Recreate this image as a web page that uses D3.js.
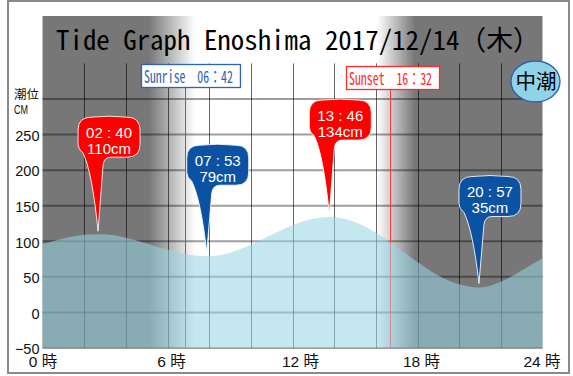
<!DOCTYPE html>
<html><head><meta charset="utf-8">
<script src="https://cdn.jsdelivr.net/npm/d3@7/dist/d3.min.js"></script>
<style>body{margin:0;background:#fff}svg{display:block}</style>
</head><body>
<svg id="c" width="573" height="376"></svg>
<script>
// ---------- data ----------
const titleText = "Tide Graph Enoshima 2017/12/14（木）";
const tideName = "中潮";
const curveHours = [0, 1, 2, 2.667, 3, 4, 5, 6, 7, 7.883, 8, 9, 10, 11, 12, 13, 13.767, 14, 15, 16, 17, 18, 19, 20, 20.95, 21, 22, 23, 24];
const curveCm    = [96, 104, 109, 110, 109.7, 105, 97, 88, 81, 79, 79, 84, 95, 109, 122.5, 131.5, 134, 133.8, 127, 112, 92, 71, 52, 39.5, 35, 35, 43, 59, 76];
const extremeTimes = ["02:40", "07:53", "13:46", "20:57"];
const extremeCm    = [110, 79, 134, 35];
const extremeKind  = ["high", "low", "high", "low"];
const sunNames = ["Sunrise", "Sunset"];
const sunTimes = ["06:42", "16:32"];
const yTickValues = [-50, 0, 50, 100, 150, 200, 250];
const gridCm = [-50, 0, 50, 100, 150, 200, 250, 300];
const xTickValues = [0, 6, 12, 18, 24];
const gridHours = [2, 4, 6, 8, 10, 12, 14, 16, 18, 20, 22];

// ---------- helpers ----------
const toH = s => { const [h, m] = s.split(":").map(Number); return h + m / 60; };
const MONO = "'Noto Sans Mono CJK JP','DejaVu Sans Mono',monospace";
const SANS = "'Liberation Sans','Noto Sans CJK JP',sans-serif";
const NARROW = "'Liberation Sans Narrow','Liberation Sans','Noto Sans CJK JP',sans-serif";
const GRAY = "#777777";

const svg = d3.select("#c");
const x = d3.scaleLinear().domain([0, 24]).range([42.5, 542.5]);
const y = d3.scaleLinear().domain([-50, 350]).range([348, 63.4]);

// outer frame
svg.append("rect").attr("x", 8).attr("y", 1).attr("width", 561).attr("height", 372)
  .attr("fill", "#fff").attr("stroke", "#8a8a8a").attr("stroke-width", 2);

// day/night gradient
const sunrise = toH(sunTimes[0]), sunset = toH(sunTimes[1]);
const defs = svg.append("defs");
const grad = defs.append("linearGradient").attr("id", "dn")
  .attr("gradientUnits", "userSpaceOnUse")
  .attr("x1", x(0)).attr("x2", x(24)).attr("y1", 0).attr("y2", 0);
[[0, GRAY], [sunrise - 1.6, GRAY], [sunrise + 0.62, "#ffffff"],
 [sunset - 0.47, "#ffffff"], [sunset + 1.35, GRAY], [24, GRAY]]
  .forEach(([h, c]) => grad.append("stop").attr("offset", h / 24).attr("stop-color", c));

svg.append("rect").attr("x", x(0)).attr("y", 16)
  .attr("width", x(24) - x(0)).attr("height", y(-50) - 16)
  .attr("fill", "url(#dn)");

// grid
svg.append("g").selectAll("line").data(gridCm).join("line")
  .attr("x1", x(0)).attr("x2", x(24))
  .attr("y1", d => y(d)).attr("y2", d => y(d))
  .attr("stroke", "rgba(0,0,0,0.38)").attr("stroke-width", 2);
svg.append("g").selectAll("line").data(gridHours).join("line")
  .attr("x1", d => Math.round(x(d)) + 0.5).attr("x2", d => Math.round(x(d)) + 0.5)
  .attr("y1", y(350)).attr("y2", y(-50))
  .attr("stroke", "rgba(0,0,0,0.6)").attr("stroke-width", 1);

// sunrise / sunset lines and boxes
const sunColors = ["#2f63b0", "#ff2a2a"];
const sunLineColors = ["#3c74c4", "#ff3a3a"];
const sunBoxTop = [64.5, 66.5];
const sunG = svg.append("g");
sunNames.forEach((name, i) => {
  const lx = Math.round(x(toH(sunTimes[i])) + 3) + 0.5;
  const label = name + "\u00a0\u00a0" + sunTimes[i].replace(":", "：");
  const hw = [...label].reduce((s, ch) => s + (ch.charCodeAt(0) > 255 ? 2 : 1), 0);
  const tl = hw * 5.93;
  const bx = lx - 44;
  sunG.append("line").attr("x1", lx).attr("x2", lx)
    .attr("y1", sunBoxTop[i] + 23).attr("y2", y(-50))
    .attr("stroke", sunLineColors[i]).attr("stroke-width", 1);
  sunG.append("rect").attr("x", bx).attr("y", sunBoxTop[i])
    .attr("width", tl + 10).attr("height", 23)
    .attr("fill", "#fff").attr("stroke", sunColors[i]).attr("stroke-width", 1.3);
  sunG.append("text").attr("x", bx + 2.5).attr("y", sunBoxTop[i] + 18.5)
    .attr("textLength", tl).attr("lengthAdjust", "spacingAndGlyphs")
    .style("font-family", MONO).style("font-size", "17px")
    .attr("fill", sunColors[i]).text(label);
});

// water
const tide = curveHours.map((h, i) => [h, curveCm[i]]);
svg.append("path").datum(tide)
  .attr("d", d3.area().x(d => x(d[0])).y0(y(-50)).y1(d => y(d[1])).curve(d3.curveMonotoneX))
  .attr("fill", "rgb(150,213,228)").attr("fill-opacity", 0.56);

// y axis
const yAxis = svg.append("g").attr("transform", `translate(${x(0)},0)`)
  .call(d3.axisLeft(y).tickValues(yTickValues).tickSize(0).tickPadding(3));
yAxis.select(".domain").remove();
yAxis.selectAll("text").style("font-family", NARROW).style("font-size", "14.5px")
  .attr("fill", "#111").attr("dy", "0.4em");

// x axis
const xAxis = svg.append("g").attr("transform", `translate(0,${y(-50)})`)
  .call(d3.axisBottom(x).tickValues(xTickValues).tickSize(0).tickPadding(0)
    .tickFormat(d => d + " 時"));
xAxis.select(".domain").remove();
const xLabelNudge = [0, 3.5, 7.5, 3.5, -1];
xAxis.selectAll("text").style("font-family", SANS).style("font-size", "15.5px")
  .attr("fill", "#111").attr("dy", 0).attr("y", 19)
  .attr("dx", (d, i) => xLabelNudge[i]);

// unit label
svg.append("text").attr("x", 14).attr("y", 99).text("潮位")
  .style("font-family", "'Noto Sans CJK JP',sans-serif").style("font-size", "12.5px").attr("fill", "#111");
svg.append("text").attr("x", 14).attr("y", 113.5).text("CM")
  .attr("textLength", 14).attr("lengthAdjust", "spacingAndGlyphs")
  .style("font-family", NARROW).style("font-size", "12px").attr("fill", "#111");

// markers
const markerFill = { high: "#ff0000", low: "#0c52a2" };
function markerPath(tx, ty, x0, y0) {
  const w = 62, h = 40, r = 13, x1 = x0 + w, y1 = y0 + h;
  return `M${x0 + r},${y0} Q${x0 + w / 2},${y0 - 2} ${x1 - r},${y0} Q${x1},${y0} ${x1},${y0 + r}
    L${x1},${y1 - r} Q${x1},${y1} ${x1 - r},${y1} L${tx + 13},${y1}
    Q${tx + 6},${y1} ${tx + 5},${y1 + 8} L${tx},${ty}
    Q${tx - 6},${y1 + 14} ${x0 + 5},${y1 - 4} Q${x0},${y1 - 8} ${x0},${y1 - r}
    L${x0},${y0 + r} Q${x0},${y0} ${x0 + r},${y0} Z`;
}
const mG = svg.append("g");
extremeTimes.forEach((t, i) => {
  const kind = extremeKind[i];
  const tx = x(toH(t)), cy = y(extremeCm[i]);
  const ty = cy - (kind === "high" ? 3 : 4);
  const y0 = cy - (kind === "high" ? 117 : 111);
  const x0 = tx - 20;
  mG.append("path").attr("d", markerPath(tx, ty, x0, y0))
    .attr("fill", markerFill[kind]).attr("stroke", "rgba(255,255,255,0.85)").attr("stroke-width", 1);
  mG.append("text").attr("x", x0 + 31).attr("y", y0 + 20.5).attr("text-anchor", "middle")
    .style("font-family", SANS).style("font-size", "15px").attr("fill", "#fff")
    .text(t.replace(":", " : "));
  mG.append("text").attr("x", x0 + 31).attr("y", y0 + 36.5).attr("text-anchor", "middle")
    .style("font-family", SANS).style("font-size", "15px").attr("fill", "#fff")
    .text(extremeCm[i] + "cm");
});

// title
svg.append("text").attr("x", 56).attr("y", 50).text(titleText)
  .attr("textLength", 484).attr("lengthAdjust", "spacingAndGlyphs")
  .style("font-family", MONO).style("font-size", "27px").attr("fill", "#000");

// tide name badge
svg.append("ellipse").attr("cx", 535.5).attr("cy", 81.5).attr("rx", 24.5).attr("ry", 20.5)
  .attr("fill", "#8fd3e8").attr("stroke", "#2f5fa5").attr("stroke-width", 1.3);
svg.append("text").attr("x", 536).attr("y", 89).attr("text-anchor", "middle").text(tideName)
  .style("font-family", "'Noto Sans CJK JP',sans-serif").style("font-size", "20.5px").attr("fill", "#000");
</script>
</body></html>
